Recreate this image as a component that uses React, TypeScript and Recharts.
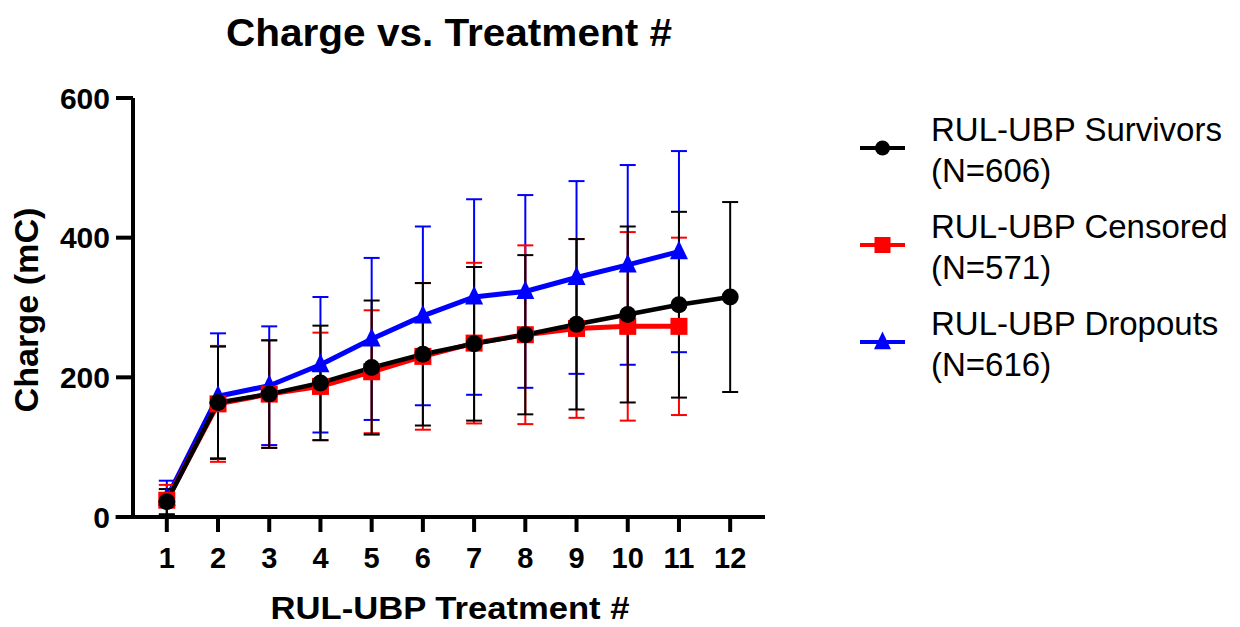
import { LineChart, Line, XAxis, YAxis, ErrorBar, ReferenceLine } from "recharts";

const treatments = [1, 2, 3, 4, 5, 6, 7, 8, 9, 10, 11, 12];

const survivorsMean = [22, 164, 176, 192, 214, 233, 248, 261, 276, 290, 304, 315];
const survivorsSd = [18, 80, 77, 82, 96, 102, 110, 114, 122, 126, 133, 136];

const censoredMean = [24, 162, 176, 187, 208, 230, 249, 261, 270, 273, 273];
const censoredSd = [22, 83, 77, 77, 88, 105, 115, 128, 128, 135, 127];

const dropoutsMean = [27, 173, 188, 218, 255, 288, 315, 323, 343, 361, 380];
const dropoutsSd = [25, 90, 85, 97, 116, 128, 140, 138, 138, 143, 144];

const seriesNames = ["RUL-UBP Survivors", "RUL-UBP Censored", "RUL-UBP Dropouts"];
const seriesN = ["(N=606)", "(N=571)", "(N=616)"];
const yTicks = [0, 200, 400, 600];

const FONT = "'Liberation Sans', Arial, sans-serif";
const BLACK = "#000000";
const RED = "#ff0000";
const BLUE = "#0000ff";

const toRows = (mean: number[], sd: number[]) =>
  mean.map((m, i) => ({ treatment: treatments[i], mean: m, sd: sd[i] }));

const survivors = toRows(survivorsMean, survivorsSd);
const censored = toRows(censoredMean, censoredSd);
const dropouts = toRows(dropoutsMean, dropoutsSd);

const circle = (cx: number, cy: number, r: number, key?: string) => (
  <circle key={key} cx={cx} cy={cy} r={r} fill={BLACK} />
);
const square = (cx: number, cy: number, s: number, key?: string) => (
  <rect key={key} x={cx - s / 2} y={cy - s / 2} width={s} height={s} fill={RED} />
);
const triangle = (cx: number, cy: number, s: number, key?: string) => (
  <polygon
    key={key}
    points={`${cx},${cy - s * 0.62} ${cx - s / 2},${cy + s * 0.42} ${cx + s / 2},${cy + s * 0.42}`}
    fill={BLUE}
  />
);

const xTickStyle = { fontSize: 29, fontWeight: 700, fill: BLACK, fontFamily: FONT };
const yTickStyle = { fontSize: 30, fontWeight: 700, fill: BLACK, fontFamily: FONT };

export default function App() {
  const legendItems = [
    { color: BLACK, marker: (x: number, y: number) => circle(x, y, 7.5) },
    { color: RED, marker: (x: number, y: number) => square(x, y, 16) },
    { color: BLUE, marker: (x: number, y: number) => triangle(x, y, 17) },
  ];

  return (
    <div style={{ position: "absolute", left: 0, top: 0, width: 1240, height: 627, background: "#fff" }}>
      <LineChart
        width={1240}
        height={627}
        margin={{ top: 98, right: 475, bottom: 50, left: 0 }}
      >
        <XAxis
          dataKey="treatment"
          type="number"
          domain={[0.34, 12.68]}
          ticks={treatments}
          interval={0}
          height={60}
          tickSize={15}
          tickMargin={15}
          axisLine={{ stroke: BLACK, strokeWidth: 4 }}
          tickLine={{ stroke: BLACK, strokeWidth: 4 }}
          tick={xTickStyle}
        />
        <YAxis
          type="number"
          domain={[0, 600]}
          ticks={yTicks}
          width={133}
          tickSize={17}
          tickMargin={6}
          axisLine={{ stroke: BLACK, strokeWidth: 4 }}
          tickLine={{ stroke: BLACK, strokeWidth: 4 }}
          tick={yTickStyle}
        />
        <ReferenceLine
          segment={[{ x: 0, y: 0 }, { x: 0.34, y: 0 }]}
          stroke={BLACK}
          strokeWidth={4}
          ifOverflow="visible"
        />
        <Line
          data={dropouts}
          dataKey="mean"
          stroke={BLUE}
          strokeWidth={5}
          isAnimationActive={false}
          dot={(p: any) => triangle(p.cx, p.cy, 18, `t-${p.index}`)}
          activeDot={false}
        >
          <ErrorBar dataKey="sd" width={8} stroke={BLUE} strokeWidth={2} direction="y" />
        </Line>
        <Line
          data={censored}
          dataKey="mean"
          stroke={RED}
          strokeWidth={5}
          isAnimationActive={false}
          dot={(p: any) => square(p.cx, p.cy, 17, `s-${p.index}`)}
          activeDot={false}
        >
          <ErrorBar dataKey="sd" width={8} stroke={RED} strokeWidth={2} direction="y" />
        </Line>
        <Line
          data={survivors}
          dataKey="mean"
          stroke={BLACK}
          strokeWidth={4.5}
          isAnimationActive={false}
          dot={(p: any) => circle(p.cx, p.cy, 8.5, `c-${p.index}`)}
          activeDot={false}
        >
          <ErrorBar dataKey="sd" width={8} stroke={BLACK} strokeWidth={2} direction="y" />
        </Line>
      </LineChart>

      <svg
        width={1240}
        height={627}
        style={{ position: "absolute", left: 0, top: 0, pointerEvents: "none" }}
        fontFamily={FONT}
      >
        <text
          x={449}
          y={46}
          textAnchor="middle"
          fontSize={38}
          fontWeight={700}
          fill={BLACK}
          textLength={446}
          lengthAdjust="spacingAndGlyphs"
        >
          Charge vs. Treatment #
        </text>
        <text
          x={450}
          y={619}
          textAnchor="middle"
          fontSize={31}
          fontWeight={700}
          fill={BLACK}
          textLength={359}
          lengthAdjust="spacingAndGlyphs"
        >
          RUL-UBP Treatment #
        </text>
        <text
          x={0}
          y={0}
          transform="translate(38 310) rotate(-90)"
          textAnchor="middle"
          fontSize={33}
          fontWeight={700}
          fill={BLACK}
          textLength={205}
          lengthAdjust="spacingAndGlyphs"
        >
          Charge (mC)
        </text>
        {legendItems.map((item, i) => {
          const base = 141 + i * 97;
          const my = base + 7;
          return (
            <g key={seriesNames[i]}>
              <line x1={860} x2={905} y1={my} y2={my} stroke={item.color} strokeWidth={4} />
              {item.marker(882.5, my)}
              <text x={931} y={base} fontSize={33} fill={BLACK}>
                {seriesNames[i]}
              </text>
              <text x={931} y={base + 41} fontSize={33} fill={BLACK}>
                {seriesN[i]}
              </text>
            </g>
          );
        })}
      </svg>
    </div>
  );
}
